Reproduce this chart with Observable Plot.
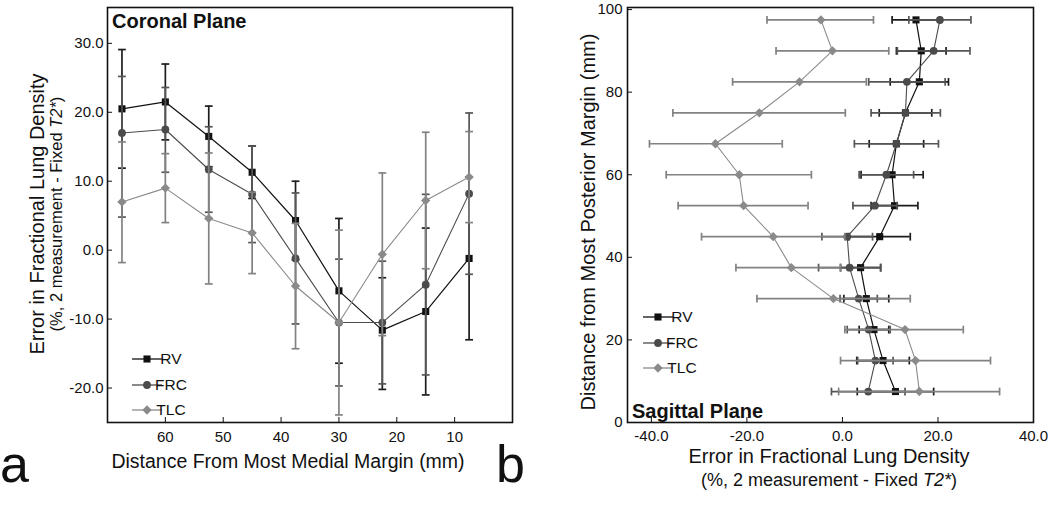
<!DOCTYPE html>
<html><head><meta charset="utf-8">
<script src="https://cdn.jsdelivr.net/npm/d3@7"></script>
<script src="https://cdn.jsdelivr.net/npm/@observablehq/plot@0.6"></script>
<style>
body{margin:0;background:#fff;}
#wrap{position:relative;width:1050px;height:507px;overflow:hidden;background:#fff;}
#left,#right{position:absolute;top:0;}
#left{left:0;} #right{left:525px;}
</style></head><body><div id="wrap"><div id="left"></div><div id="right"></div></div>
<script>
// ---- Coronal plane (panel a) ----
const coronalDistance = [67.5, 60, 52.5, 45, 37.5, 30, 22.5, 15, 7.5];
const rvCoronal   = [20.5, 21.5, 16.5, 11.3, 4.3, -5.9, -11.6, -8.9, -1.2];
const rvCoronalLo = [11.9, 16.0, 12.1, 7.5, -1.4, -16.4, -20.2, -21.0, -13.0];
const rvCoronalHi = [29.1, 27.0, 20.9, 15.1, 10.0, 4.6, -4.0, 3.2, 10.6];
const frcCoronal   = [17.0, 17.5, 11.7, 8.1, -1.2, -10.5, -10.5, -5.0, 8.2];
const frcCoronalLo = [4.8, 11.3, 5.5, 1.1, -10.7, -19.7, -19.4, -18.1, -3.5];
const frcCoronalHi = [25.2, 23.6, 17.9, 15.1, 8.3, -1.3, -1.6, 8.1, 19.9];
const tlcCoronal   = [7.0, 9.0, 4.6, 2.5, -5.2, -10.5, -0.6, 7.2, 10.6];
const tlcCoronalLo = [-1.8, 4.0, -4.9, -3.4, -14.3, -23.9, -12.4, -2.7, 4.0];
const tlcCoronalHi = [15.7, 14.0, 14.1, 8.4, 3.9, 2.9, 11.2, 17.1, 17.2];
const coronalXTicks = [60, 50, 40, 30, 20, 10];
const coronalYTicks = [-20, -10, 0, 10, 20, 30];

// ---- Sagittal plane (panel b) ----
const sagittalDistance = [97.5, 90, 82.5, 75, 67.5, 60, 52.5, 45, 37.5, 30, 22.5, 15, 7.5];
const rvSagittal   = [15.4, 16.5, 16.1, 13.2, 11.3, 10.4, 10.9, 7.8, 3.8, 5.0, 6.6, 8.5, 11.1];
const rvSagittalLo = [10.4, 11.3, 10.0, 7.7, 5.6, 3.9, 6.0, 1.4, -0.4, 0.3, 3.5, 3.0, 3.1];
const rvSagittalHi = [20.4, 21.7, 22.2, 18.7, 17.0, 16.9, 15.8, 14.2, 8.0, 9.7, 9.7, 14.0, 19.1];
const frcSagittal   = [20.4, 19.1, 13.5, 13.2, 11.3, 9.2, 6.8, 1.0, 1.5, 3.4, 5.5, 6.9, 5.4];
const frcSagittalLo = [13.9, 11.5, 5.5, 6.0, 2.5, 3.5, 2.2, -4.3, -5.0, -0.5, 1.0, 3.2, -2.3];
const frcSagittalHi = [26.9, 26.7, 21.5, 20.5, 20.1, 14.9, 11.4, 6.3, 8.0, 7.3, 10.0, 10.6, 13.1];
const tlcSagittal   = [-4.5, -2.1, -9.0, -17.4, -26.6, -21.6, -20.7, -14.5, -10.7, -1.9, 13.1, 15.3, 16.1];
const tlcSagittalLo = [-15.8, -13.9, -23.0, -35.5, -40.4, -36.9, -34.4, -29.5, -22.3, -17.9, 0.5, -0.4, -0.8];
const tlcSagittalHi = [6.5, 9.7, 5.0, 0.6, -12.6, -6.5, -7.2, 0.5, -0.4, 14.2, 25.3, 31.0, 32.9];
const sagittalXTicks = [-40, -20, 0, 20, 40];
const sagittalYTicks = [0, 20, 40, 60, 80, 100];

const seriesNames = ["RV", "FRC", "TLC"];
const FONT = '"Liberation Sans", Arial, Helvetica, sans-serif';
const seriesColor = {RV: "#111111", FRC: "#4b4b4b", TLC: "#8a8a8a"};
const barColor = {RV: "#1c1c1c", FRC: "#555555", TLC: "#828282"};
const seriesSymbol = {RV: "square", FRC: "circle", TLC: "diamond2"};
const d3Symbol = {RV: d3.symbolSquare, FRC: d3.symbolCircle, TLC: d3.symbolDiamond2};
const seriesR = {RV: 4.0, FRC: 3.9, TLC: 4.2};
const lineW = {RV: 1.2, FRC: 1.1, TLC: 1.1};
const fmt1 = d => d.toFixed(1);

const capH = {draw(ctx, size) { const h = Math.sqrt(size) / 2; ctx.moveTo(-h, 0); ctx.lineTo(h, 0); }};
const capV = {draw(ctx, size) { const h = Math.sqrt(size) / 2; ctx.moveTo(0, -h); ctx.lineTo(0, h); }};

function rows(pos, vals, lo, hi, name) {
  return pos.map((p, i) => ({pos: p, v: vals[i], lo: lo[i], hi: hi[i], series: name}));
}
const coronal = {
  RV: rows(coronalDistance, rvCoronal, rvCoronalLo, rvCoronalHi, "RV"),
  FRC: rows(coronalDistance, frcCoronal, frcCoronalLo, frcCoronalHi, "FRC"),
  TLC: rows(coronalDistance, tlcCoronal, tlcCoronalLo, tlcCoronalHi, "TLC")
};
const sagittal = {
  RV: rows(sagittalDistance, rvSagittal, rvSagittalLo, rvSagittalHi, "RV"),
  FRC: rows(sagittalDistance, frcSagittal, frcSagittalLo, frcSagittalHi, "FRC"),
  TLC: rows(sagittalDistance, tlcSagittal, tlcSagittalLo, tlcSagittalHi, "TLC")
};

// ---------- Panel a ----------
const leftMarks = [];
for (const s of seriesNames) {
  const d = coronal[s];
  leftMarks.push(
    Plot.ruleX(d, {x: "pos", y1: "lo", y2: "hi", stroke: barColor[s], strokeWidth: 1.7}),
    Plot.dot(d, {x: "pos", y: "lo", symbol: capH, r: 4.4, fill: "none", stroke: barColor[s], strokeWidth: 1.7}),
    Plot.dot(d, {x: "pos", y: "hi", symbol: capH, r: 4.4, fill: "none", stroke: barColor[s], strokeWidth: 1.7}),
    Plot.line(d, {x: "pos", y: "v", stroke: seriesColor[s], strokeWidth: lineW[s]}),
    Plot.dot(d, {x: "pos", y: "v", symbol: seriesSymbol[s], r: seriesR[s], fill: seriesColor[s], stroke: "none"})
  );
}
const left = Plot.plot({
  width: 525, height: 507,
  marginLeft: 107, marginRight: 13, marginTop: 7, marginBottom: 85,
  style: {fontFamily: FONT, fontSize: "15px", color: "#111", background: "transparent"},
  x: {domain: [70, 0]},
  y: {domain: [-25, 35.2]},
  marks: [
    ...leftMarks,
    Plot.frame({stroke: "#111", strokeWidth: 1.6}),
    Plot.axisX({ticks: coronalXTicks, tickSize: -5, tickPadding: 14, label: null, stroke: "#111"}),
    Plot.axisY({ticks: coronalYTicks, tickSize: -5, tickPadding: 9, tickFormat: fmt1, label: null, stroke: "#111"})
  ]
});
document.getElementById("left").appendChild(left);

// ---------- Panel b ----------
const rightMarks = [];
for (const s of seriesNames) {
  const d = sagittal[s];
  rightMarks.push(
    Plot.ruleY(d, {y: "pos", x1: "lo", x2: "hi", stroke: barColor[s], strokeWidth: 1.7}),
    Plot.dot(d, {x: "lo", y: "pos", symbol: capV, r: 4.4, fill: "none", stroke: barColor[s], strokeWidth: 1.7}),
    Plot.dot(d, {x: "hi", y: "pos", symbol: capV, r: 4.4, fill: "none", stroke: barColor[s], strokeWidth: 1.7}),
    Plot.line(d, {x: "v", y: "pos", stroke: seriesColor[s], strokeWidth: lineW[s]}),
    Plot.dot(d, {x: "v", y: "pos", symbol: seriesSymbol[s], r: seriesR[s], fill: seriesColor[s], stroke: "none"})
  );
}
const right = Plot.plot({
  width: 525, height: 507,
  marginLeft: 102, marginRight: 17, marginTop: 7, marginBottom: 85,
  style: {fontFamily: FONT, fontSize: "15px", color: "#111", background: "transparent"},
  x: {domain: [-45, 40]},
  y: {domain: [0, 100.5]},
  marks: [
    ...rightMarks,
    Plot.frame({stroke: "#111", strokeWidth: 1.6}),
    Plot.axisX({ticks: sagittalXTicks, tickSize: -5, tickPadding: 13, tickFormat: fmt1, label: null, stroke: "#111"}),
    Plot.axisY({ticks: sagittalYTicks, tickSize: -5, tickPadding: 10, label: null, stroke: "#111"})
  ]
});
document.getElementById("right").appendChild(right);

// ---------- Text and legends ----------
function addText(svg, x, y, str, opts = {}) {
  const t = d3.select(svg).append("text")
    .attr("x", x).attr("y", y)
    .attr("font-family", FONT)
    .attr("font-size", opts.size || 15)
    .attr("font-weight", opts.weight || "normal")
    .attr("text-anchor", opts.anchor || "start")
    .attr("fill", "#111");
  if (opts.rotate) t.attr("transform", `rotate(-90, ${x}, ${y})`);
  return t;
}
function addSubtitle(svg, x, y, size, rotate) {
  const t = addText(svg, x, y, "", {size, anchor: "middle", rotate});
  t.append("tspan").text("(%, 2 measurement - Fixed ");
  t.append("tspan").attr("font-style", "italic").text("T2*");
  t.append("tspan").text(")");
}
function addLegend(svg, x0, x1, xt, ys) {
  const g = d3.select(svg).append("g");
  seriesNames.forEach((s, i) => {
    const y = ys[i];
    g.append("line").attr("x1", x0).attr("x2", x1).attr("y1", y).attr("y2", y)
      .attr("stroke", seriesColor[s]).attr("stroke-width", 1.3);
    g.append("path").attr("transform", `translate(${(x0 + x1) / 2},${y})`)
      .attr("d", d3.symbol(d3Symbol[s], Math.PI * seriesR[s] * seriesR[s])())
      .attr("fill", seriesColor[s]);
    g.append("text").attr("x", xt).attr("y", y).attr("dy", "0.35em")
      .attr("font-family", FONT).attr("font-size", 15.5).attr("fill", "#111").text(s);
  });
}

// Panel a texts
addText(left, 112, 28, "", {size: 20, weight: "bold"}).text("Coronal Plane");
addLegend(left, 132, 162, 171, [359, 385, 410]);
addText(left, 44, 214, "", {size: 20, anchor: "middle", rotate: true}).text("Error in Fractional Lung Density");
addSubtitle(left, 62, 214, 16.5, true);
addText(left, 288, 468, "", {size: 19.5, anchor: "middle"}).text("Distance From Most Medial Margin (mm)");
addText(left, 0, 482, "", {size: 52}).text("a");
addText(left, 496, 482, "", {size: 52}).text("b");

// Panel b texts (local = global - 525)
addText(right, 107, 418, "", {size: 20, weight: "bold"}).text("Sagittal Plane");
addLegend(right, 118, 148, 157, [317, 343, 368]);
addText(right, 70, 222, "", {size: 20, anchor: "middle", rotate: true}).text("Distance from Most Posterior Margin (mm)");
addText(right, 304, 463, "", {size: 20, anchor: "middle"}).text("Error in Fractional Lung Density");
addSubtitle(right, 304, 486, 18, false);
</script></body></html>
